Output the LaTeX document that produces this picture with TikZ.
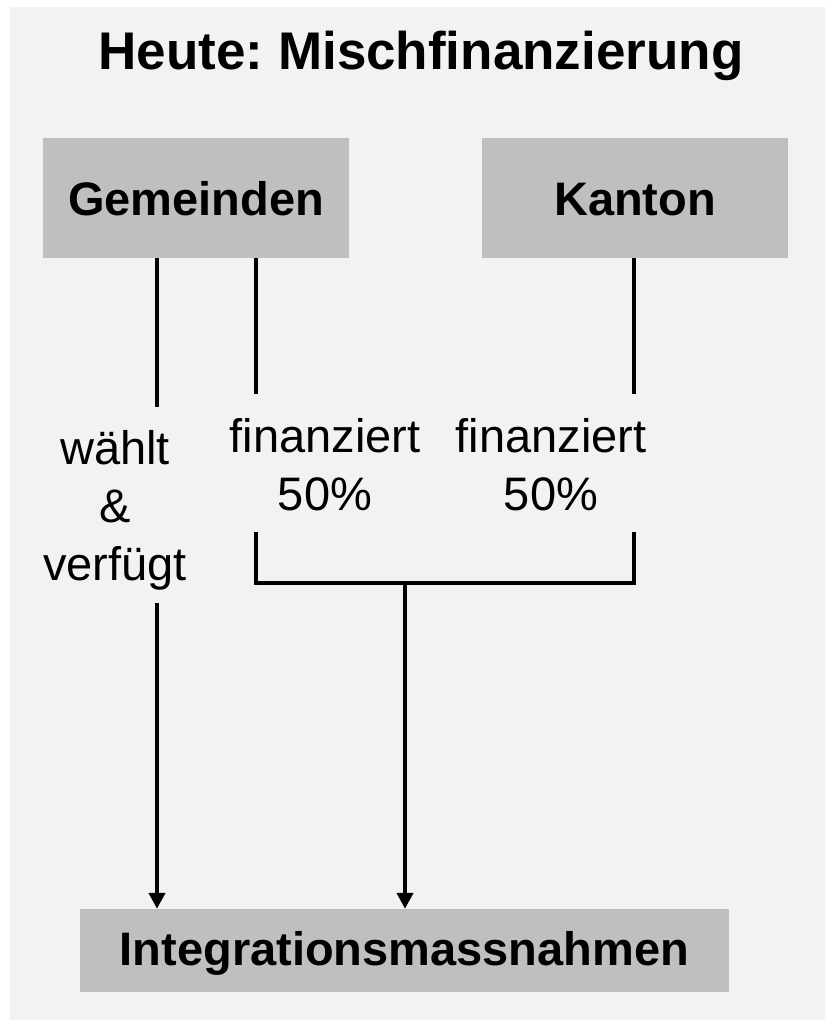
\documentclass[tikz,border=0pt]{standalone}
\usepackage{fontspec}
\setmainfont{Liberation Sans}
\usetikzlibrary{positioning}
\usetikzlibrary{arrows.meta}
\definecolor{bggray}{HTML}{F2F2F2}
\definecolor{boxgray}{HTML}{BFBFBF}
\frenchspacing

\begin{document}
\begin{tikzpicture}[
  x=1pt, y=-1pt,
  font=\fontsize{47}{58}\selectfont,
  box/.style={fill=boxgray, align=center, inner sep=0pt, minimum height=120pt, minimum width=306pt, text height=34pt, text depth=0pt, font=\fontsize{47}{58}\selectfont\bfseries},
  line/.style={line width=4pt, line join=miter},
  arrow/.style={line width=4pt, -{Triangle[width=16pt, length=16pt]}},
  lbl/.style={align=center, inner sep=0pt, anchor=base}
]
\useasboundingbox (0,0) rectangle (825,1022);
\fill[bggray] (10,7) rectangle (825,1020);

\node[anchor=base, inner sep=0pt, font=\fontsize{53}{60}\selectfont\bfseries] (title) at (421,70) {Heute: Mischfinanzierung};

\node[box] (gem) at (196,198) {Gemeinden};
\node[box] (kan) at (635,198) {Kanton};
\node[box, minimum width=649pt, minimum height=83pt, text height=29pt] (massn) at (404.5,950.5) {Integrationsmassnahmen};

% Beschriftungen (base = letzte Zeile)
\node[lbl] (waehlt) at (115,580) {wählt\\\&\\verfügt};
\node[lbl] (finG) at (325,510) {finanziert\\50\%};
\node[lbl] (finK) at (551,510) {finanziert\\50\%};

% Linienenden
\coordinate (wTop) at (157,407);
\coordinate (wBot) at (157,603);
\coordinate (gTop) at (256,394);
\coordinate (kTop) at (634,394);
\coordinate (gBot) at (256,532);
\coordinate (kBot) at (634,532);
\coordinate (join) at (405,583);

\draw[line] (gem.south -| wTop) -- (wTop);
\draw[arrow] (wBot) -- (massn.north -| wBot);

\draw[line] (gem.south -| gTop) -- (gTop);
\draw[line] (kan.south -| kTop) -- (kTop);
\draw[line] (gBot) |- (join) -| (kBot);
\draw[arrow] (join) -- (massn.north -| join);

\end{tikzpicture}
\end{document}
